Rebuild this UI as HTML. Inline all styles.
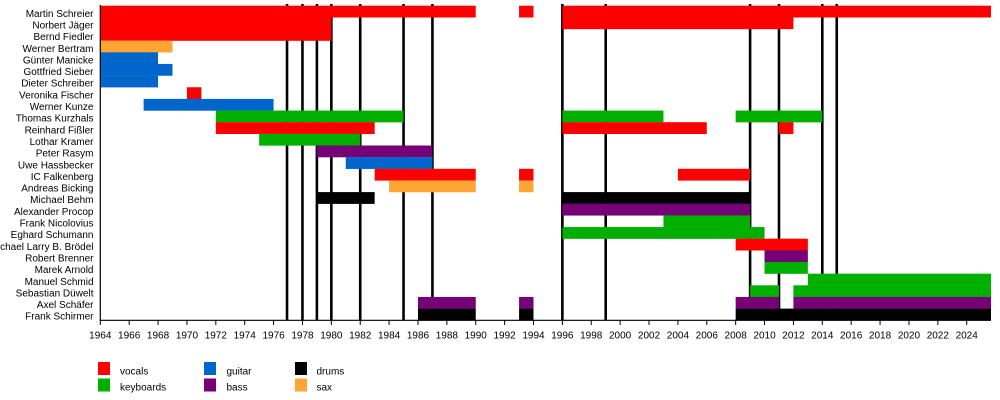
<!DOCTYPE html>
<html>
<head>
<meta charset="utf-8">
<style>
html,body{margin:0;padding:0;background:#fff;}
svg{display:block;}
text{font-family:"Liberation Sans",Arial,sans-serif;font-size:10px;fill:#000;}
</style>
</head>
<body>
<svg width="1000" height="400" viewBox="0 0 1000 400" xmlns="http://www.w3.org/2000/svg">
<rect x="0" y="0" width="1000" height="400" fill="#fff"/>

<!-- vertical event lines -->
<g stroke="#000" stroke-width="2.6">
<line x1="287.02" y1="4" x2="287.02" y2="320.3"/>
<line x1="302.46" y1="4" x2="302.46" y2="320.3"/>
<line x1="316.9" y1="4" x2="316.9" y2="320.3"/>
<line x1="331.34" y1="4" x2="331.34" y2="320.3"/>
<line x1="360.22" y1="4" x2="360.22" y2="320.3"/>
<line x1="403.54" y1="4" x2="403.54" y2="320.3"/>
<line x1="432.42" y1="4" x2="432.42" y2="320.3"/>
<line x1="562.38" y1="4" x2="562.38" y2="320.3"/>
<line x1="605.7" y1="4" x2="605.7" y2="320.3"/>
<line x1="750.1" y1="4" x2="750.1" y2="320.3"/>
<line x1="778.98" y1="4" x2="778.98" y2="320.3"/>
<line x1="822.3" y1="4" x2="822.3" y2="320.3"/>
<line x1="836.74" y1="4" x2="836.74" y2="320.3"/>
</g>

<!-- bars -->
<g>
<!-- 0 Martin Schreier -->
<rect x="100.3" y="5.7" width="375.44" height="11.8" fill="#ff0000"/>
<rect x="519.06" y="5.7" width="14.44" height="11.8" fill="#ff0000"/>
<rect x="562.38" y="5.7" width="428.62" height="11.8" fill="#ff0000"/>
<!-- 1 Norbert Jäger -->
<rect x="100.3" y="17.35" width="231.04" height="11.8" fill="#ff0000"/>
<rect x="562.38" y="17.35" width="231.04" height="11.8" fill="#ff0000"/>
<!-- 2 Bernd Fiedler -->
<rect x="100.3" y="29.0" width="231.04" height="11.8" fill="#ff0000"/>
<!-- 3 Werner Bertram -->
<rect x="100.3" y="40.65" width="72.2" height="11.8" fill="#ffa533"/>
<!-- 4 Günter Manicke -->
<rect x="100.3" y="52.3" width="57.76" height="11.8" fill="#0066cc"/>
<!-- 5 Gottfried Sieber -->
<rect x="100.3" y="63.95" width="72.2" height="11.8" fill="#0066cc"/>
<!-- 6 Dieter Schreiber -->
<rect x="100.3" y="75.6" width="57.76" height="11.8" fill="#0066cc"/>
<!-- 7 Veronika Fischer -->
<rect x="186.94" y="87.25" width="14.44" height="11.8" fill="#ff0000"/>
<!-- 8 Werner Kunze -->
<rect x="143.62" y="98.9" width="129.96" height="11.8" fill="#0066cc"/>
<!-- 9 Thomas Kurzhals -->
<rect x="215.82" y="110.55" width="187.72" height="11.8" fill="#00b000"/>
<rect x="562.38" y="110.55" width="101.08" height="11.8" fill="#00b000"/>
<rect x="735.66" y="110.55" width="86.64" height="11.8" fill="#00b000"/>
<!-- 10 Reinhard Fißler -->
<rect x="215.82" y="122.2" width="158.84" height="11.8" fill="#ff0000"/>
<rect x="562.38" y="122.2" width="144.4" height="11.8" fill="#ff0000"/>
<rect x="778.98" y="122.2" width="14.44" height="11.8" fill="#ff0000"/>
<!-- 11 Lothar Kramer -->
<rect x="259.14" y="133.85" width="101.08" height="11.8" fill="#00b000"/>
<!-- 12 Peter Rasym -->
<rect x="316.9" y="145.5" width="115.52" height="11.8" fill="#770077"/>
<!-- 13 Uwe Hassbecker -->
<rect x="345.78" y="157.15" width="86.64" height="11.8" fill="#0066cc"/>
<!-- 14 IC Falkenberg -->
<rect x="374.66" y="168.8" width="101.08" height="11.8" fill="#ff0000"/>
<rect x="519.06" y="168.8" width="14.44" height="11.8" fill="#ff0000"/>
<rect x="677.9" y="168.8" width="72.2" height="11.8" fill="#ff0000"/>
<!-- 15 Andreas Bicking -->
<rect x="389.1" y="180.45" width="86.64" height="11.8" fill="#ffa533"/>
<rect x="519.06" y="180.45" width="14.44" height="11.8" fill="#ffa533"/>
<!-- 16 Michael Behm -->
<rect x="316.9" y="192.1" width="57.76" height="11.8" fill="#000000"/>
<rect x="562.38" y="192.1" width="187.72" height="11.8" fill="#000000"/>
<!-- 17 Alexander Procop -->
<rect x="562.38" y="203.75" width="187.72" height="11.8" fill="#770077"/>
<!-- 18 Frank Nicolovius -->
<rect x="663.46" y="215.4" width="86.64" height="11.8" fill="#00b000"/>
<!-- 19 Eghard Schumann -->
<rect x="562.38" y="227.05" width="202.16" height="11.8" fill="#00b000"/>
<!-- 20 Michael Larry B. Brödel -->
<rect x="735.66" y="238.7" width="72.2" height="11.8" fill="#ff0000"/>
<!-- 21 Robert Brenner -->
<rect x="764.54" y="250.35" width="43.32" height="11.8" fill="#770077"/>
<!-- 22 Marek Arnold -->
<rect x="764.54" y="262.0" width="43.32" height="11.8" fill="#00b000"/>
<!-- 23 Manuel Schmid -->
<rect x="807.86" y="273.65" width="183.14" height="11.8" fill="#00b000"/>
<!-- 24 Sebastian Düwelt -->
<rect x="750.1" y="285.3" width="28.88" height="11.8" fill="#00b000"/>
<rect x="793.42" y="285.3" width="197.58" height="11.8" fill="#00b000"/>
<!-- 25 Axel Schäfer -->
<rect x="417.98" y="296.95" width="57.76" height="11.8" fill="#770077"/>
<rect x="519.06" y="296.95" width="14.44" height="11.8" fill="#770077"/>
<rect x="735.66" y="296.95" width="43.32" height="11.8" fill="#770077"/>
<rect x="793.42" y="296.95" width="197.58" height="11.8" fill="#770077"/>
<!-- 26 Frank Schirmer -->
<rect x="417.98" y="308.6" width="57.76" height="11.7" fill="#000000"/>
<rect x="519.06" y="308.6" width="14.44" height="11.7" fill="#000000"/>
<rect x="735.66" y="308.6" width="255.34" height="11.7" fill="#000000"/>
</g>

<!-- axes -->
<line x1="100.3" y1="5" x2="100.3" y2="320.8" stroke="#000" stroke-width="1.2"/>
<line x1="99.7" y1="320.3" x2="991" y2="320.3" stroke="#000" stroke-width="1.2"/>
<g stroke="#000" stroke-width="1">
<line x1="100.3" y1="320.3" x2="100.3" y2="325"/>
<line x1="129.18" y1="320.3" x2="129.18" y2="325"/>
<line x1="158.06" y1="320.3" x2="158.06" y2="325"/>
<line x1="186.94" y1="320.3" x2="186.94" y2="325"/>
<line x1="215.82" y1="320.3" x2="215.82" y2="325"/>
<line x1="244.7" y1="320.3" x2="244.7" y2="325"/>
<line x1="273.58" y1="320.3" x2="273.58" y2="325"/>
<line x1="302.46" y1="320.3" x2="302.46" y2="325"/>
<line x1="331.34" y1="320.3" x2="331.34" y2="325"/>
<line x1="360.22" y1="320.3" x2="360.22" y2="325"/>
<line x1="389.1" y1="320.3" x2="389.1" y2="325"/>
<line x1="417.98" y1="320.3" x2="417.98" y2="325"/>
<line x1="446.86" y1="320.3" x2="446.86" y2="325"/>
<line x1="475.74" y1="320.3" x2="475.74" y2="325"/>
<line x1="504.62" y1="320.3" x2="504.62" y2="325"/>
<line x1="533.5" y1="320.3" x2="533.5" y2="325"/>
<line x1="562.38" y1="320.3" x2="562.38" y2="325"/>
<line x1="591.26" y1="320.3" x2="591.26" y2="325"/>
<line x1="620.14" y1="320.3" x2="620.14" y2="325"/>
<line x1="649.02" y1="320.3" x2="649.02" y2="325"/>
<line x1="677.9" y1="320.3" x2="677.9" y2="325"/>
<line x1="706.78" y1="320.3" x2="706.78" y2="325"/>
<line x1="735.66" y1="320.3" x2="735.66" y2="325"/>
<line x1="764.54" y1="320.3" x2="764.54" y2="325"/>
<line x1="793.42" y1="320.3" x2="793.42" y2="325"/>
<line x1="822.3" y1="320.3" x2="822.3" y2="325"/>
<line x1="851.18" y1="320.3" x2="851.18" y2="325"/>
<line x1="880.06" y1="320.3" x2="880.06" y2="325"/>
<line x1="908.94" y1="320.3" x2="908.94" y2="325"/>
<line x1="937.82" y1="320.3" x2="937.82" y2="325"/>
<line x1="966.7" y1="320.3" x2="966.7" y2="325"/>
</g>

<!-- tick labels -->
<g text-anchor="middle">
<text x="100.3" y="338.5">1964</text>
<text x="129.18" y="338.5">1966</text>
<text x="158.06" y="338.5">1968</text>
<text x="186.94" y="338.5">1970</text>
<text x="215.82" y="338.5">1972</text>
<text x="244.7" y="338.5">1974</text>
<text x="273.58" y="338.5">1976</text>
<text x="302.46" y="338.5">1978</text>
<text x="331.34" y="338.5">1980</text>
<text x="360.22" y="338.5">1982</text>
<text x="389.1" y="338.5">1984</text>
<text x="417.98" y="338.5">1986</text>
<text x="446.86" y="338.5">1988</text>
<text x="475.74" y="338.5">1990</text>
<text x="504.62" y="338.5">1992</text>
<text x="533.5" y="338.5">1994</text>
<text x="562.38" y="338.5">1996</text>
<text x="591.26" y="338.5">1998</text>
<text x="620.14" y="338.5">2000</text>
<text x="649.02" y="338.5">2002</text>
<text x="677.9" y="338.5">2004</text>
<text x="706.78" y="338.5">2006</text>
<text x="735.66" y="338.5">2008</text>
<text x="764.54" y="338.5">2010</text>
<text x="793.42" y="338.5">2012</text>
<text x="822.3" y="338.5">2014</text>
<text x="851.18" y="338.5">2016</text>
<text x="880.06" y="338.5">2018</text>
<text x="908.94" y="338.5">2020</text>
<text x="937.82" y="338.5">2022</text>
<text x="966.7" y="338.5">2024</text>
</g>

<!-- row labels -->
<g text-anchor="end">
<text x="93.5" y="16.8">Martin Schreier</text>
<text x="93.5" y="28.45">Norbert Jäger</text>
<text x="93.5" y="40.1">Bernd Fiedler</text>
<text x="93.5" y="51.75">Werner Bertram</text>
<text x="93.5" y="63.4">Günter Manicke</text>
<text x="93.5" y="75.05">Gottfried Sieber</text>
<text x="93.5" y="86.7">Dieter Schreiber</text>
<text x="93.5" y="98.35">Veronika Fischer</text>
<text x="93.5" y="110.0">Werner Kunze</text>
<text x="93.5" y="121.65">Thomas Kurzhals</text>
<text x="93.5" y="133.3">Reinhard Fißler</text>
<text x="93.5" y="144.95">Lothar Kramer</text>
<text x="93.5" y="156.6">Peter Rasym</text>
<text x="93.5" y="168.25">Uwe Hassbecker</text>
<text x="93.5" y="179.9">IC Falkenberg</text>
<text x="93.5" y="191.55">Andreas Bicking</text>
<text x="93.5" y="203.2">Michael Behm</text>
<text x="93.5" y="214.85">Alexander Procop</text>
<text x="93.5" y="226.5">Frank Nicolovius</text>
<text x="93.5" y="238.15">Eghard Schumann</text>
<text x="93.5" y="249.8">Michael Larry B. Brödel</text>
<text x="93.5" y="261.45">Robert Brenner</text>
<text x="93.5" y="273.1">Marek Arnold</text>
<text x="93.5" y="284.75">Manuel Schmid</text>
<text x="93.5" y="296.4">Sebastian Düwelt</text>
<text x="93.5" y="308.05">Axel Schäfer</text>
<text x="93.5" y="319.7">Frank Schirmer</text>
</g>

<!-- legend -->
<rect x="98" y="362" width="12" height="13" fill="#ff0000"/>
<rect x="98" y="378.5" width="12" height="13" fill="#00b000"/>
<rect x="204" y="362" width="12" height="13" fill="#0066cc"/>
<rect x="204" y="378.5" width="12" height="13" fill="#770077"/>
<rect x="295" y="362" width="12" height="13" fill="#000000"/>
<rect x="295" y="378.5" width="12" height="13" fill="#ffa533"/>
<text x="120" y="374.5">vocals</text>
<text x="120" y="390.5">keyboards</text>
<text x="226.5" y="374.5">guitar</text>
<text x="226.5" y="390.5">bass</text>
<text x="316.5" y="374.5">drums</text>
<text x="316.5" y="390.5">sax</text>
</svg>
</body>
</html>
